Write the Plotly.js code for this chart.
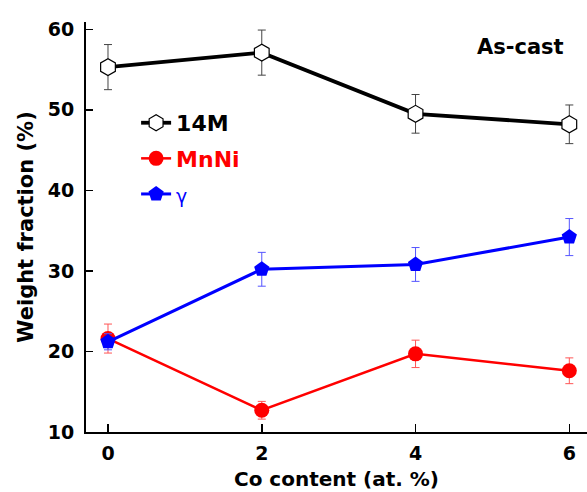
<!DOCTYPE html>
<html>
<head>
<meta charset="utf-8">
<script src="https://cdn.plot.ly/plotly-3.0.1.min.js"></script>
<style>html,body{margin:0;padding:0;background:#fff;}#chart{width:587px;height:492px;}</style>
</head>
<body>
<div id="chart"></div>
<script>
// Co content (at. %)
const coContent = [0, 2, 4, 6];
// Weight fractions (%)
const phase14M = [55.3, 57.1, 49.5, 48.2];
const phase14MErr = [2.8, 2.8, 2.4, 2.4];
const phaseMnNi = [21.6, 12.7, 19.7, 17.6];
const phaseMnNiErr = [1.8, 1.1, 1.7, 1.6];
const phaseGamma = [21.2, 30.2, 30.8, 34.2];
const phaseGammaErr = [1.0, 2.1, 2.1, 2.3];
const xTickVals = [0, 2, 4, 6];
const yTickVals = [10, 20, 30, 40, 50, 60];

const FONT = '"DejaVu Sans", "Liberation Sans", Arial, sans-serif';

const traces = [
  {
    x: coContent, y: phase14M, name: '<b>14M</b>', legendgroup: 'a',
    mode: 'lines+markers', type: 'scatter',
    line: {color: '#000000', width: 3.8},
    marker: {symbol: 'hexagon', size: 17, color: '#ffffff', line: {color: '#000000', width: 1.2}},
    error_y: {type: 'data', array: phase14MErr, visible: true, color: '#444444', thickness: 1, width: 4}
  },
  {
    x: coContent, y: phaseMnNi, name: '<span style="color:#ff0000"><b>MnNi</b></span>', legendgroup: 'b',
    mode: 'lines+markers', type: 'scatter',
    line: {color: '#ff0000', width: 2.5},
    marker: {symbol: 'circle', size: 15, color: '#ff0000'},
    error_y: {type: 'data', array: phaseMnNiErr, visible: true, color: '#ff5555', thickness: 1, width: 4}
  },
  {
    x: coContent, y: phaseGamma, name: '<span style="color:#0000ff;font-size:19px">γ</span>', legendgroup: 'c',
    mode: 'lines+markers', type: 'scatter',
    line: {color: '#0000ff', width: 3},
    marker: {symbol: 'pentagon', size: 16, color: '#0000ff'},
    error_y: {type: 'data', array: phaseGammaErr, visible: true, color: '#5555ff', thickness: 1, width: 4}
  }
];

const layout = {
  width: 587, height: 492,
  margin: {l: 86, r: 0, t: 22, b: 60},
  paper_bgcolor: '#ffffff', plot_bgcolor: '#ffffff',
  font: {family: FONT, color: '#000000'},
  showlegend: true,
  legend: {
    x: 0.1, y: 0.805, xanchor: 'left', yanchor: 'top',
    bgcolor: 'rgba(0,0,0,0)', borderwidth: 0,
    font: {family: FONT, size: 22, color: '#000000'},
    tracegroupgap: 4
  },
  xaxis: {
    range: [-0.286, 6.23],
    tickvals: xTickVals, ticktext: xTickVals.map(String),
    ticks: 'inside', ticklen: 8, tickwidth: 1.5, tickcolor: '#000000',
    showline: true, linewidth: 2, linecolor: '#000000',
    showgrid: false, zeroline: false,
    tickfont: {family: FONT, size: 19, color: '#000000', weight: 'bold'},
    ticklabelstandoff: 3,
    title: {text: '<b>Co content (at. %)</b>', font: {family: FONT, size: 20, color: '#000000'}, standoff: 9}
  },
  yaxis: {
    range: [10, 60.9],
    tickvals: yTickVals, ticktext: yTickVals.map(String),
    ticks: 'inside', ticklen: 7, tickwidth: 1.5, tickcolor: '#000000',
    showline: true, linewidth: 2, linecolor: '#000000',
    showgrid: false, zeroline: false,
    tickfont: {family: FONT, size: 19, color: '#000000', weight: 'bold'},
    ticklabelstandoff: 6,
    title: {text: '<b>Weight fraction (%)</b>', font: {family: FONT, size: 21, color: '#000000'}, standoff: 8}
  },
  annotations: [
    {
      text: '<b>As-cast</b>', xref: 'paper', yref: 'paper',
      x: 0.867, y: 0.94, xanchor: 'center', yanchor: 'middle', showarrow: false,
      font: {family: FONT, size: 21, color: '#000000'}
    }
  ]
};

Plotly.newPlot('chart', traces, layout, {displayModeBar: false, staticPlot: true});
</script>
</body>
</html>
